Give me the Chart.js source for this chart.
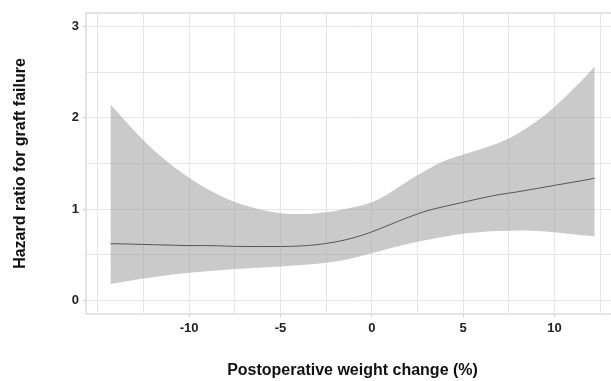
<!DOCTYPE html>
<html>
<head>
<meta charset="utf-8">
<script src="https://cdn.jsdelivr.net/npm/chart.js@4/dist/chart.umd.min.js"></script>
<style>
  html, body { margin: 0; padding: 0; background: #fff; overflow: hidden; }
  #wrap { width: 620px; height: 381px; }
</style>
</head>
<body>
<div id="wrap"><canvas id="hrChart" width="620" height="381"></canvas></div>
<script>
// weight change (%) and the spline estimate with its 95% band
const weightChange = [-14.3, -14, -13, -12, -11, -10, -9, -8, -7, -6, -5, -4, -3, -2, -1, 0,
                      1, 2, 3, 4, 5, 6, 7, 8, 9, 10, 11, 12, 12.2];
const hazardRatio = [0.62, 0.62, 0.615, 0.61, 0.605, 0.60, 0.60, 0.595, 0.59, 0.59, 0.59, 0.595, 0.61, 0.64, 0.685, 0.75,
                     0.83, 0.91, 0.98, 1.03, 1.075, 1.12, 1.16, 1.19, 1.225, 1.26, 1.295, 1.33, 1.34];
const upperCI = [2.15, 2.08, 1.86, 1.66, 1.49, 1.345, 1.22, 1.12, 1.045, 0.99, 0.955, 0.945, 0.955, 0.98, 1.02, 1.075,
                 1.18, 1.31, 1.43, 1.53, 1.60, 1.66, 1.73, 1.83, 1.96, 2.12, 2.31, 2.52, 2.57];
const lowerCI = [0.18, 0.19, 0.222, 0.252, 0.28, 0.303, 0.32, 0.335, 0.348, 0.36, 0.372, 0.385, 0.40, 0.425, 0.465, 0.515,
                 0.57, 0.62, 0.66, 0.70, 0.73, 0.75, 0.76, 0.765, 0.76, 0.745, 0.725, 0.705, 0.70];

const xGrid = [-15, -12.5, -10, -7.5, -5, -2.5, 0, 2.5, 5, 7.5, 10, 12.5];
const xTickLabels = [-10, -5, 0, 5, 10];
const yGrid = [0, 0.5, 1, 1.5, 2, 2.5, 3];
const yTickLabels = [0, 1, 2, 3];

const pts = ys => weightChange.map((x, i) => ({ x: x, y: ys[i] }));
const font = 'Liberation Sans, Arial, sans-serif';

const panelBorder = {
  id: 'panelBorder',
  afterDatasetsDraw(chart) {
    const a = chart.chartArea, c = chart.ctx;
    c.save();
    c.strokeStyle = '#dcdcdc';
    c.lineWidth = 1.5;
    c.strokeRect(a.left, a.top, a.right - a.left, a.bottom - a.top);
    c.restore();
  }
};

const ctx = document.getElementById('hrChart').getContext('2d');
new Chart(ctx, {
  type: 'line',
  data: {
    datasets: [
      {
        label: 'lower',
        data: pts(lowerCI),
        borderWidth: 0,
        pointRadius: 0,
        fill: false,
        cubicInterpolationMode: 'monotone',
        order: 2
      },
      {
        label: 'upper',
        data: pts(upperCI),
        borderWidth: 0,
        pointRadius: 0,
        fill: '-1',
        backgroundColor: 'rgba(150,150,150,0.5)',
        cubicInterpolationMode: 'monotone',
        order: 1
      },
      {
        label: 'HR',
        data: pts(hazardRatio),
        borderColor: '#555555',
        borderWidth: 1,
        pointRadius: 0,
        fill: false,
        cubicInterpolationMode: 'monotone',
        order: 0
      }
    ]
  },
  options: {
    responsive: false,
    animation: false,
    layout: { padding: { left: 0, top: 13, right: 1, bottom: 0 } },
    plugins: { legend: { display: false }, tooltip: { enabled: false } },
    scales: {
      x: {
        type: 'linear',
        min: -15.64,
        max: 13.53,
        afterBuildTicks: s => { s.ticks = xGrid.map(v => ({ value: v })); },
        afterFit: s => { s.height = 67; },
        grid: {
          color: '#e6e6e6',
          lineWidth: 1,
          tickLength: 3,
          tickColor: c => xTickLabels.includes(c.tick.value) ? '#cccccc' : 'rgba(0,0,0,0)'
        },
        border: { display: false },
        ticks: {
          autoSkip: false,
          maxRotation: 0,
          padding: 4,
          color: '#222',
          font: { family: font, size: 13, weight: 'bold' },
          callback: v => xTickLabels.includes(v) ? String(v) : ''
        },
        title: {
          display: true,
          text: 'Postoperative weight change (%)',
          color: '#111',
          font: { family: font, size: 16, weight: 'bold' },
          padding: { top: 0, bottom: 1 }
        }
      },
      y: {
        type: 'linear',
        min: -0.15,
        max: 3.15,
        afterBuildTicks: s => { s.ticks = yGrid.map(v => ({ value: v })); },
        afterFit: s => { s.width = 86; },
        grid: {
          color: '#e6e6e6',
          lineWidth: 1,
          tickLength: 3,
          tickColor: c => yTickLabels.includes(c.tick.value) ? '#cccccc' : 'rgba(0,0,0,0)'
        },
        border: { display: false },
        ticks: {
          padding: 4,
          color: '#222',
          font: { family: font, size: 13, weight: 'bold' },
          callback: v => yTickLabels.includes(v) ? String(v) : ''
        },
        title: {
          display: true,
          text: 'Hazard ratio for graft failure',
          color: '#111',
          font: { family: font, size: 16, weight: 'bold' },
          padding: { top: 11, bottom: 0 }
        }
      }
    }
  },
  plugins: [panelBorder]
});
</script>
</body>
</html>
